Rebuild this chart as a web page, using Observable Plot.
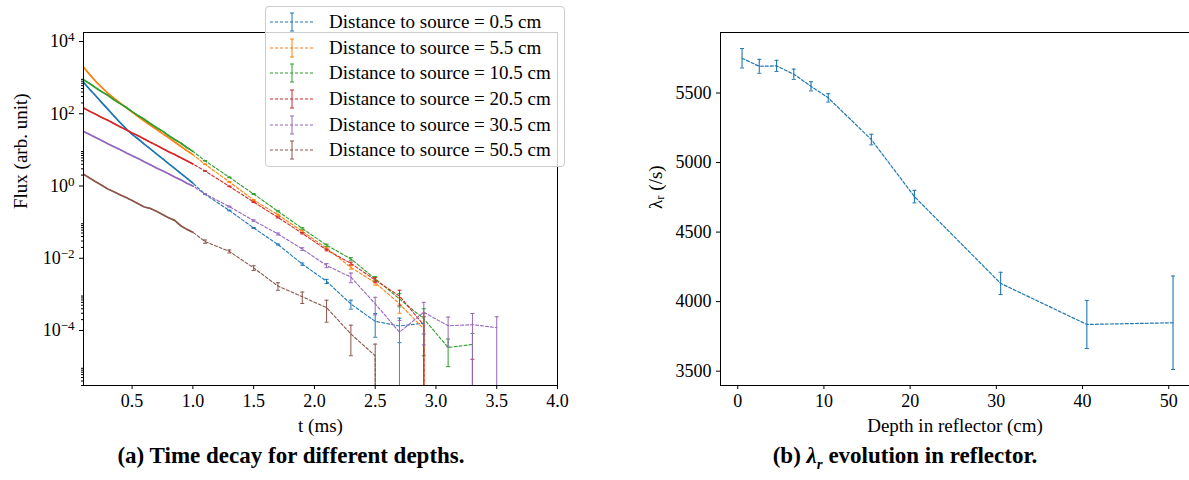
<!DOCTYPE html>
<html><head><meta charset="utf-8">
<script src="https://cdn.jsdelivr.net/npm/d3@7"></script>
<script src="https://cdn.jsdelivr.net/npm/@observablehq/plot@0.6"></script>
<style>
body{margin:0;background:#fff;overflow:hidden}
#fig{position:relative;width:1189px;height:480px;font-family:"Liberation Serif",serif;color:#000}
#left{position:absolute;left:0;top:0}
#right{position:absolute;left:600px;top:0}
#legend{position:absolute;left:265px;top:6px;width:300px;height:161px;background:rgba(255,255,255,0.8);border:1px solid #cccccc;border-radius:4px;box-sizing:border-box;padding-top:2px}
.row{display:flex;align-items:center;height:25.7px}
.row svg{margin-left:4px;margin-right:15px}
.row span{font-family:"Liberation Serif",serif;font-size:19px;white-space:nowrap}
.cap{position:absolute;top:443px;width:440px;font-family:"Liberation Serif",serif;font-weight:bold;font-size:23px;line-height:26px;text-align:center}
</style></head><body>
<div id="fig">
  <div id="left"></div>
  <div id="right"></div>
  <div id="legend"></div>
  <div class="cap" style="left:71px">(a) Time decay for different depths.</div>
  <div class="cap" style="left:685px">(b) <i>λ<sub style="font-size:15px">r</sub></i> evolution in reflector.</div>
</div>
<script>
// ---------- data: panel (a) ----------
const times = [0.1,0.15,0.2,0.25,0.3,0.35,0.4,0.45,0.5,0.55,0.6,0.65,0.7,0.75,0.8,0.85,0.9,0.95,1.0,
               1.1,1.3,1.5,1.7,1.9,2.1,2.3,2.5,2.7,2.9,3.1,3.3,3.5];
const seriesLabels = ["Distance to source = 0.5 cm","Distance to source = 5.5 cm","Distance to source = 10.5 cm",
                      "Distance to source = 20.5 cm","Distance to source = 30.5 cm","Distance to source = 50.5 cm"];
const seriesColors = ["#1f77b4","#ff7f0e","#2ca02c","#d62728","#9467bd","#8c564b"];

const flux_0_5 = [741,479,316,204,135,87.1,57.5,38.9,26.9,20.0,14.5,10.7,7.76,5.75,4.17,3.09,2.24,1.66,1.20,
                  0.59,0.21,0.069,0.024,0.0069,0.0023,5.4e-4,1.8e-4,1.33e-4,1.6e-4,null,null,null];
const err_0_5  = [0,0,0,0,0,0,0,0,0,0,0,0,0,0,0,0,0,0,0,
                  0.01,0.005,0.002,0.0008,0.0005,0.0003,1.5e-4,1.15e-4,0.87e-4,0.8e-4,null,null,null];
const flux_5_5 = [1950,1230,794,537,372,269,200,148,112,83.2,63.1,47.9,37.2,28.2,21.9,16.6,12.6,9.55,7.41,
                  4.0,1.3,0.41,0.16,0.056,0.019,0.0056,0.0021,5.5e-4,1.1e-4,0,null,null];
const err_5_5  = [0,0,0,0,0,0,0,0,0,0,0,0,0,0,0,0,0,0,0,
                  0.05,0.03,0.012,0.006,0.003,0.0012,6e-4,3e-4,2.5e-4,1.3e-4,0,null,null];
const flux_10_5 = [871,692,525,407,324,245,191,151,115,89.1,70.8,53.7,41.7,33.1,25.1,19.5,15.5,11.7,9.12,
                   5.0,1.74,0.60,0.20,0.067,0.023,0.0096,0.0027,7.5e-4,2.1e-4,3.4e-5,4.1e-5,null];
const err_10_5  = [0,0,0,0,0,0,0,0,0,0,0,0,0,0,0,0,0,0,0,
                   0.06,0.04,0.02,0.007,0.003,0.0015,8e-4,4e-4,3e-4,1.9e-4,2.4e-5,4.2e-5,null];
const flux_20_5 = [145,117,97.7,79.4,66.1,53.7,43.7,36.3,29.5,24.5,20.0,16.2,13.5,11.0,8.91,7.41,6.03,5.01,4.07,
                   2.6,0.98,0.36,0.135,0.049,0.017,0.0072,0.0025,9e-4,1.4e-4,0,2e-6,null];
const err_20_5  = [0,0,0,0,0,0,0,0,0,0,0,0,0,0,0,0,0,0,0,
                   0.03,0.02,0.01,0.005,0.002,0.001,6e-4,4e-4,4e-4,1.6e-4,0,1.4e-5,null];
const flux_30_5 = [32.4,26.9,21.9,18.2,14.8,12.3,10.2,8.32,6.92,5.75,4.68,3.89,3.16,2.63,2.19,1.78,1.48,1.20,1.00,
                   0.60,0.27,0.11,0.047,0.018,0.0063,0.0030,5.5e-4,9e-5,3.2e-4,1.35e-4,1.45e-4,1.2e-4];
const err_30_5  = [0,0,0,0,0,0,0,0,0,0,0,0,0,0,0,0,0,0,0,
                   0.015,0.008,0.005,0.003,0.0015,8e-4,9e-4,2.8e-4,1e-4,2.8e-4,1e-4,1.5e-4,1.2e-4];
const flux_50_5 = [2.14,1.66,1.32,1.05,0.832,0.692,0.575,0.479,0.398,0.324,0.263,0.240,0.200,0.162,0.132,0.112,0.0794,0.0631,0.0525,
                   0.029,0.0155,0.0054,0.0017,8.6e-4,4.3e-4,8e-5,2e-5,0,null,null,null,null];
const err_50_5  = [0,0,0,0,0,0,0,0,0,0,0,0,0,0,0,0,0,0,0,
                   0.003,0.0015,0.0008,0.0004,3e-4,2.6e-4,6e-5,2.2e-5,0,null,null,null,null];

const xTicksA = [0.5,1.0,1.5,2.0,2.5,3.0,3.5,4.0];
const yMajorA = [1e-4,1e-2,1,1e2,1e4];
const yMajorExpA = ["−4","−2","0","2","4"];
const minorDecadesA = [1e-6,1e-4,1e-2,1,1e2];
const minorMultA = [2,3,4,5,6,7,8,9];

// ---------- data: panel (b) ----------
const depth = [0.5,2.5,4.5,6.5,8.5,10.5,15.5,20.5,30.5,40.5,50.5];
const lambdaR = [5750,5692,5695,5635,5548,5465,5165,4755,4131,3836,3848];
const lambdaErr = [70,50,40,37,33,30,38,45,80,173,336];
const xTicksB = [0,10,20,30,40,50];
const yTicksB = [3500,4000,4500,5000,5500];

// ---------- helpers ----------
const FLOOR = 1e-300;
const yDomainA = [3.0e-6, 1.78e4];
const capSymbol = {draw(ctx, size){ const w = Math.sqrt(size/Math.PI); ctx.moveTo(-w,0); ctx.lineTo(w,0); }};
const fluxes = [flux_0_5,flux_5_5,flux_10_5,flux_20_5,flux_30_5,flux_50_5];
const errs = [err_0_5,err_5_5,err_10_5,err_20_5,err_30_5,err_50_5];

const marksA = [];
fluxes.forEach((fl, i) => {
  const c = seriesColors[i];
  const rows = times.map((t, j) => ({t, v: fl[j], e: errs[i][j]})).filter(d => d.v != null);
  const yv = d => d.v > 0 ? d.v : FLOOR;
  marksA.push(Plot.line(rows, {x: "t", y: yv, stroke: c, strokeWidth: 1.1, strokeDasharray: "3,2", clip: true}));
  marksA.push(Plot.line(rows.filter(d => d.t <= 1.0), {x: "t", y: yv, stroke: c, strokeWidth: 1.7, clip: true}));
  const bars = rows.filter(d => d.e > 0);
  marksA.push(Plot.ruleX(bars, {x: "t", y1: d => d.v - d.e > 0 ? d.v - d.e : FLOOR, y2: d => d.v + d.e, stroke: c, strokeWidth: 1, clip: true}));
  marksA.push(Plot.dot(bars, {x: "t", y: d => d.v + d.e, symbol: capSymbol, r: 2, stroke: c, strokeWidth: 1, clip: true}));
  marksA.push(Plot.dot(bars.filter(d => d.v - d.e > 0), {x: "t", y: d => d.v - d.e, symbol: capSymbol, r: 2, stroke: c, strokeWidth: 1, clip: true}));
});

const minorA = minorDecadesA.flatMap(d => minorMultA.map(m => m * d)).filter(v => v >= yDomainA[0] && v <= yDomainA[1]);

const plotA = Plot.plot({
  width: 600, height: 430,
  marginLeft: 83, marginRight: 43, marginTop: 32, marginBottom: 45,
  style: {fontFamily: "Liberation Serif, serif", fontSize: "18px", color: "#000", background: "transparent", overflow: "visible"},
  x: {domain: [0.1, 4.0]},
  y: {type: "log", domain: yDomainA},
  marks: [
    ...marksA,
    Plot.frame({stroke: "#000", strokeWidth: 1}),
    Plot.axisX({ticks: xTicksA, tickFormat: d3.format(".1f"), tickSize: 4, tickPadding: 5, label: null}),
    Plot.axisY({ticks: yMajorA, tickFormat: d => "10^" + yMajorExpA[yMajorA.indexOf(d)], tickSize: 4, tickPadding: 5, label: null}),
    Plot.axisY({ticks: minorA, tickFormat: () => "", tickSize: 2, label: null}),
    Plot.text(["t (ms)"], {text: d => d, frameAnchor: "bottom", lineAnchor: "middle", dy: 40, fontSize: 19}),
    Plot.text(["Flux (arb. unit)"], {text: d => d, frameAnchor: "left", lineAnchor: "middle", dx: -63, rotate: -90, fontSize: 19})
  ]
});
// render powers of ten as 10 with a raised exponent
plotA.querySelectorAll("text").forEach(el => {
  const s = el.textContent;
  if (s.startsWith("10^")) {
    el.textContent = "10";
    const sup = document.createElementNS("http://www.w3.org/2000/svg", "tspan");
    sup.setAttribute("dy", "-0.45em");
    sup.setAttribute("font-size", "13px");
    sup.textContent = s.slice(3);
    el.appendChild(sup);
  }
});
document.getElementById("left").appendChild(plotA);

const rowsB = depth.map((d, i) => ({d, v: lambdaR[i], e: lambdaErr[i]}));
const blue = seriesColors[0];
const plotB = Plot.plot({
  width: 589, height: 430,
  marginLeft: 120, marginRight: 0, marginTop: 32, marginBottom: 45,
  style: {fontFamily: "Liberation Serif, serif", fontSize: "18px", color: "#000", background: "transparent", overflow: "visible"},
  x: {domain: [-2, 52.41]},
  y: {domain: [3397, 5935]},
  marks: [
    Plot.line(rowsB, {x: "d", y: "v", stroke: blue, strokeWidth: 1.2, strokeDasharray: "3,2"}),
    Plot.ruleX(rowsB, {x: "d", y1: r => r.v - r.e, y2: r => r.v + r.e, stroke: blue, strokeWidth: 1.1}),
    Plot.dot(rowsB, {x: "d", y: r => r.v - r.e, symbol: capSymbol, r: 2, stroke: blue, strokeWidth: 1}),
    Plot.dot(rowsB, {x: "d", y: r => r.v + r.e, symbol: capSymbol, r: 2, stroke: blue, strokeWidth: 1}),
    Plot.frame({anchor: "top", stroke: "#000", strokeWidth: 1}),
    Plot.frame({anchor: "left", stroke: "#000", strokeWidth: 1}),
    Plot.frame({anchor: "bottom", stroke: "#000", strokeWidth: 1}),
    Plot.axisX({ticks: xTicksB, tickFormat: d3.format("d"), tickSize: 4, tickPadding: 5, label: null}),
    Plot.axisY({ticks: yTicksB, tickFormat: d3.format("d"), tickSize: 4, tickPadding: 5, label: null}),
    Plot.text(["Depth in reflector (cm)"], {text: d => d, frameAnchor: "bottom", lineAnchor: "middle", dy: 40, fontSize: 19}),
    Plot.text(["λᵣ (/s)"], {text: d => d, frameAnchor: "left", lineAnchor: "middle", dx: -65, rotate: -90, fontSize: 19})
  ]
});
document.getElementById("right").appendChild(plotB);

// ---------- legend ----------
const legend = document.getElementById("legend");
seriesLabels.forEach((lab, i) => {
  const c = seriesColors[i];
  const row = document.createElement("div");
  row.className = "row";
  row.innerHTML = `<svg width="44" height="24"><line x1="0" x2="44" y1="12" y2="12" stroke="${c}" stroke-width="1.1" stroke-dasharray="3,2"/>`+
    `<line x1="22" x2="22" y1="3" y2="21" stroke="${c}" stroke-width="1"/>`+
    `<line x1="20" x2="24" y1="3" y2="3" stroke="${c}"/><line x1="20" x2="24" y1="21" y2="21" stroke="${c}"/></svg>`+
    `<span>${lab}</span>`;
  legend.appendChild(row);
});
</script>
</body></html>
